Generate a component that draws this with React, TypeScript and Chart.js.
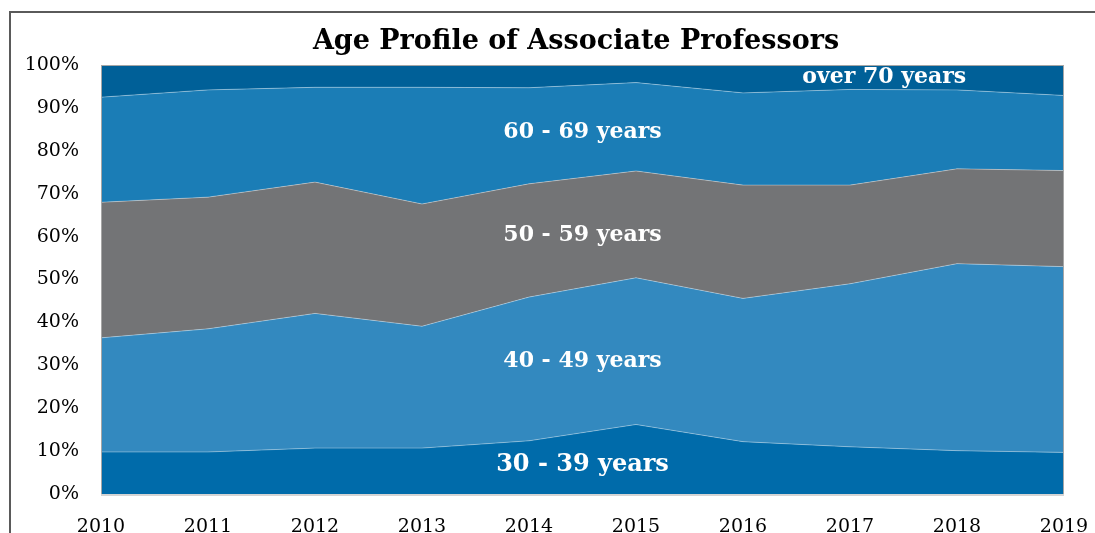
import React, { useEffect, useRef } from "react";
import { Chart, registerables } from "chart.js";

Chart.register(...registerables);

const years = ["2010", "2011", "2012", "2013", "2014", "2015", "2016", "2017", "2018", "2019"];
const age30to39 = [9.8, 9.8, 10.7, 10.7, 12.4, 16.2, 12.2, 11.0, 10.1, 9.7];
const age40to49 = [26.6, 28.7, 31.4, 28.4, 33.5, 34.2, 33.4, 38.0, 43.6, 43.3];
const age50to59 = [31.6, 30.7, 30.6, 28.5, 26.4, 24.9, 26.4, 23.0, 22.1, 22.4];
const age60to69 = [24.5, 25.0, 22.1, 27.2, 22.4, 20.6, 21.5, 22.3, 18.4, 17.5];
const over70 = [7.5, 5.8, 5.2, 5.2, 5.3, 4.1, 6.5, 5.7, 5.8, 7.1];
const seriesNames = ["30 - 39 years", "40 - 49 years", "50 - 59 years", "60 - 69 years", "over 70 years"];
const yTicks = [0, 10, 20, 30, 40, 50, 60, 70, 80, 90, 100];
const titleText = "Age Profile of Associate Professors";

const colors = ["#006BAA", "#3389BF", "#737476", "#1B7DB6", "#006098"];
// label anchor: [x index, y value, font size]
const labelAnchors: [number, number, number][] = [
  [4.5, 6.8, 24],
  [4.5, 31.0, 22],
  [4.5, 60.3, 22],
  [4.5, 84.3, 22],
  [7.32, 97.2, 22],
];

const SERIF = "'DejaVu Serif', 'Liberation Serif', serif";

const overlayPlugin = {
  id: "overlay",
  afterDatasetsDraw(chart: any) {
    const { ctx, chartArea, scales } = chart;
    ctx.save();
    ctx.fillStyle = "#ffffff";
    ctx.textAlign = "center";
    ctx.textBaseline = "middle";
    seriesNames.forEach((name, i) => {
      const [xi, yv, fs] = labelAnchors[i];
      ctx.font = `bold ${fs}px ${SERIF}`;
      ctx.fillText(name, scales.x.getPixelForValue(xi), scales.y.getPixelForValue(yv));
    });
    ctx.strokeStyle = "#a6a6a6";
    ctx.lineWidth = 1;
    ctx.strokeRect(chartArea.left + 0.5, chartArea.top + 0.5, chartArea.right - chartArea.left - 1, chartArea.bottom - chartArea.top);
    ctx.strokeStyle = "#d4d4d4";
    ctx.lineWidth = 2;
    ctx.beginPath();
    ctx.moveTo(chartArea.left, chartArea.bottom + 1);
    ctx.lineTo(chartArea.right, chartArea.bottom + 1);
    ctx.stroke();
    ctx.restore();
  },
  afterDraw(chart: any) {
    const { ctx } = chart;
    ctx.save();
    ctx.fillStyle = "#000000";
    ctx.font = `bold 27px ${SERIF}`;
    ctx.textAlign = "center";
    ctx.textBaseline = "middle";
    ctx.fillText(titleText, 576, 42);
    ctx.restore();
  },
};

export default function App() {
  const ref = useRef<HTMLCanvasElement | null>(null);
  useEffect(() => {
    if (!ref.current) return;
    const series = [age30to39, age40to49, age50to59, age60to69, over70];
    const chart = new Chart(ref.current, {
      type: "line",
      data: {
        labels: years,
        datasets: series.map((d, i) => ({
          label: seriesNames[i],
          data: d,
          backgroundColor: colors[i],
          borderColor: "rgba(255,255,255,0.35)",
          borderWidth: 1,
          pointRadius: 0,
          fill: i === 0 ? "origin" : "-1",
          tension: 0,
        })),
      },
      options: {
        animation: false,
        responsive: false,
        maintainAspectRatio: false,
        layout: { padding: { left: 0, right: 31, top: 65, bottom: 0 } },
        plugins: {
          legend: { display: false },
          title: { display: false },
          tooltip: { enabled: false },
        },
        scales: {
          x: {
            offset: false,
            grid: { display: false, drawTicks: false },
            border: { display: false },
            ticks: {
              color: "#000",
              font: { family: SERIF, size: 19 },
              padding: 22,
              maxRotation: 0,
              autoSkip: false,
            },
            afterFit(scale: any) {
              scale.height = 39;
              scale.paddingRight = 0;
              scale.paddingLeft = 0;
            },
          },
          y: {
            stacked: true,
            min: 0,
            max: 100,
            z: 1,
            afterBuildTicks(scale: any) {
              scale.ticks = yTicks.map((v) => ({ value: v }));
            },
            afterFit(scale: any) {
              scale.width = 101;
            },
            grid: { color: "rgba(0,0,0,0.13)", lineWidth: 1, drawTicks: false },
            border: { display: false },
            ticks: {
              color: "#000",
              font: { family: SERIF, size: 19 },
              padding: 22,
              callback: (v: any) => `${v}%`,
            },
          },
        },
      },
      plugins: [overlayPlugin],
    });
    return () => chart.destroy();
  }, []);

  return (
    <div style={{ position: "fixed", left: 0, top: 0, width: 1095, height: 533, overflow: "hidden", background: "#fff" }}>
      <div
        style={{
          position: "absolute",
          left: 9,
          top: 11,
          width: 1200,
          height: 700,
          border: "2px solid #5a5a5a",
          boxSizing: "border-box",
        }}
      />
      <canvas ref={ref} width={1095} height={533} style={{ position: "absolute", left: 0, top: 0, display: "block" }} />
    </div>
  );
}
